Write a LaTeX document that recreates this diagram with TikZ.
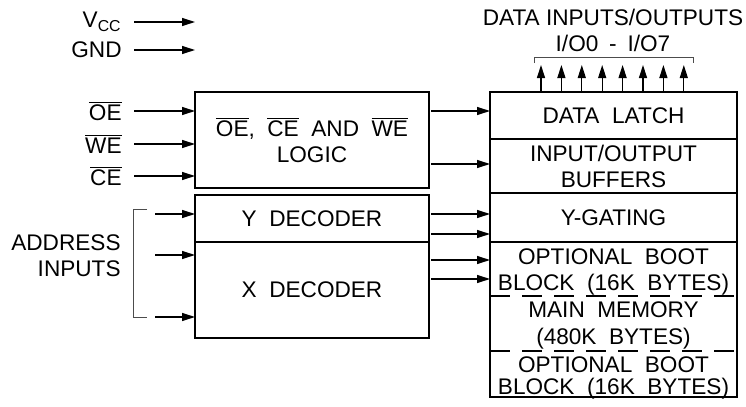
\documentclass[tikz,border=0pt]{standalone}
\usepackage{fontspec}
\setmainfont{Liberation Sans}[WordSpace=2]
\newfontfamily\plainsans{Liberation Sans}
\usetikzlibrary{arrows.meta,positioning,calc,fit}
\newcommand{\ovl}[1]{$\overline{\mbox{#1}}$}

\begin{document}
\begin{tikzpicture}[
  x=0.5pt,y=-0.5pt,
  font=\fontsize{11.3pt}{13pt}\selectfont,
  blk/.style={draw,line width=1pt,inner sep=0pt,outer sep=0pt,align=center},
  sect/.style={inner sep=0pt,outer sep=0pt,minimum width=123.5pt},
  txt/.style={inner sep=0pt,align=center},
  lbl/.style={inner sep=0pt,anchor=east,align=right},
  sig/.style={-{Triangle[length=6.5pt,width=4pt]},line width=0.6pt},
  brk/.style={line width=0.5pt,black!70},
  sep/.style={line width=1pt,dash pattern=on 10pt off 6pt}
]
\useasboundingbox (0,0) rectangle (746,407);
% control and decoder blocks
\node[blk,minimum width=117pt,minimum height=48pt] (logic) at (312,140)
  {\ovl{OE}, \ovl{CE} AND \ovl{WE}\\LOGIC};
\node[blk,minimum width=117pt,minimum height=23.5pt] (ydec) at (312,218.5) {Y DECODER};
\node[blk,minimum width=117pt,minimum height=48pt,below=0pt of ydec] (xdec) {X DECODER};
% memory column
\node[blk,minimum width=123.5pt,minimum height=23.5pt] (latch) at (613.5,115.5) {DATA LATCH};
\node[blk,minimum width=123.5pt,minimum height=27pt,below=0pt of latch] (buf) {INPUT/OUTPUT\\BUFFERS};
\node[blk,minimum width=123.5pt,minimum height=24.25pt,below=0pt of buf] (ygate) {Y-GATING};
\node[sect,minimum height=27pt,below=0pt of ygate] (boot1) {};
\node[sect,minimum height=27.5pt,below=0pt of boot1] (mainmem) {};
\node[sect,minimum height=23pt,below=0pt of mainmem] (boot2) {};
\node[draw,line width=1pt,inner sep=0pt,outer sep=0pt,fit=(boot1)(boot2)] (array) {};
\draw[sep] (boot1.south west) -- (boot1.south east);
\draw[sep] (mainmem.south west) -- (mainmem.south east);
\node[txt] (boot1t) at ([yshift=-1.5pt]boot1.center) {OPTIONAL BOOT\\BLOCK (16K BYTES)};
\node[txt] (maint) at ([yshift=-1.25pt]mainmem.center) {MAIN MEMORY\\[0.5pt](480K BYTES)};
\node[txt] (boot2t) at ([yshift=-2pt]boot2.center) {OPTIONAL BOOT\\[-2pt]BLOCK (16K BYTES)};
% pins on the left
\node[lbl] (vcc) at (122,22) {V\textsubscript{CC}};
\node[lbl] (gnd) at (122,50) {GND};
\node[lbl] (oe) at (122,111) {\ovl{OE}};
\node[lbl] (we) at (122,144) {\ovl{WE}};
\node[lbl] (ce) at (122,176) {\ovl{CE}};
\node[lbl] (addr) at (121,256) {ADDRESS\\INPUTS};
\foreach \s in {vcc,gnd,oe,we,ce}{
  \draw[sig] ([xshift=6pt]\s.east) -- (\s.east -| logic.west);
}
\draw[brk] (147,209) -- (133,209) -- (133,317) -- (147,317);
\foreach \n/\y/\b in {a1/214/ydec,a2/255/xdec,a3/317/xdec}{
  \coordinate (\n) at (155,\y);
  \draw[sig] (\n) -- (\n -| \b.west);
}
% into the memory column
\draw[sig,shorten <=1pt] (logic.east |- 0,111) -- (latch.west |- 0,111);
\draw[sig,shorten <=1pt] (logic.east |- 0,164) -- (buf.west |- 0,164);
\foreach \y in {214,234}{
  \draw[sig,shorten <=1pt] (ydec.east |- 0,\y) -- (ygate.west |- 0,\y);
}
\foreach \y in {260,279}{
  \draw[sig,shorten <=1pt] (xdec.east |- 0,\y) -- (boot1.west |- 0,\y);
}
% data pins
\foreach \i in {0,...,7}{
  \draw[sig] ($(latch.north west)+(51+20.4*\i,0)$) -- ++(0,-27);
}
\draw[brk] (534,63) -- (534,57) -- (693,57) -- (693,63);
\node[font=\fontsize{11.3pt}{13pt}\plainsans] (dio) at (613,17) {DATA INPUTS/OUTPUTS};
\node[font=\fontsize{11.3pt}{13pt}\plainsans] (iorange) at (613,43) {I/O0\hspace{0.48em}-\hspace{0.48em}I/O7};
\end{tikzpicture}
\end{document}
